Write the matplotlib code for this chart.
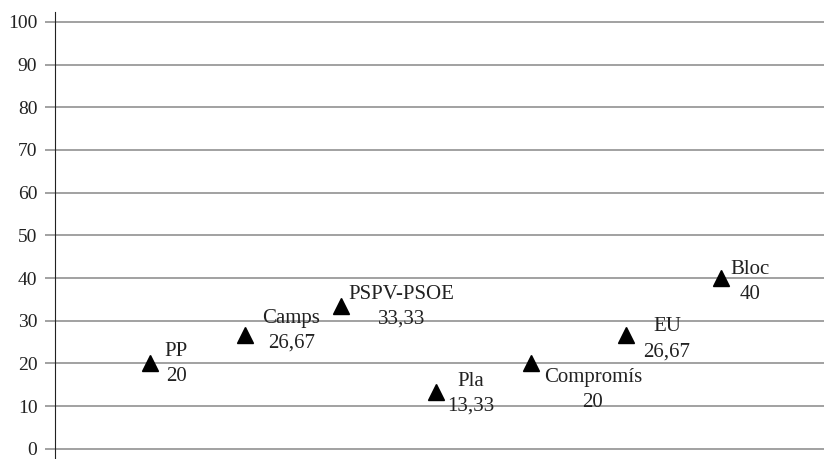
import numpy as np
import matplotlib
matplotlib.use("Agg")
import matplotlib.pyplot as plt

# datos
partidos = ["PP", "Camps", "PSPV-PSOE", "Pla", "Compromís", "EU", "Bloc"]
valores = [20, 26.67, 33.33, 13.33, 20, 26.67, 40]
etiquetas_valor = ["20", "26,67", "33,33", "13,33", "20", "26,67", "40"]
yticks = list(range(0, 101, 10))

# desplazamiento de las etiquetas (pixeles, dx / dy centro del bloque)
desp = [(26, -0.5), (46, 4), (61, -0.5), (35, -2), (62, -26.5), (41, -4.5), (29, -3.5)]
sep = 12.5

plt.rcParams['font.family'] = ['Liberation Serif', 'DejaVu Serif']

fig = plt.figure(figsize=(8.24, 4.59), dpi=100)
ax = fig.add_axes([55/824, 0, 1 - 55/824, 1 - 11.7/459])

x = np.arange(1, len(partidos) + 1)
ax.plot(x, valores, linestyle='none', marker='^', markersize=11, color='black', zorder=3)

for xi, yi, nom, val, (dx, dy) in zip(x, valores, partidos, etiquetas_valor, desp):
    ax.annotate(nom, (xi, yi), xytext=(dx, dy + sep), textcoords='offset pixels',
                ha='center', va='center', fontsize=15, color='#222222')
    ax.annotate(val, (xi, yi), xytext=(dx, dy - sep), textcoords='offset pixels',
                ha='center', va='center', fontsize=15, color='#222222')

ax.set_xlim(0, 8.08)
ax.set_ylim(-2.4, 102.4)
ax.set_yticks(yticks)
ax.set_xticks([])
ax.yaxis.grid(True, color='#878787', linewidth=1.1)
ax.tick_params(axis='y', length=7.2, width=1.1, color='#878787', pad=5.5,
               labelsize=14, labelcolor='#222222')
for s in ['top', 'right', 'bottom']:
    ax.spines[s].set_visible(False)
ax.spines['left'].set_color('#222222')
ax.spines['left'].set_linewidth(0.8)
ax.spines['left'].set_zorder(4)

fig.savefig("out.png", dpi=100)
